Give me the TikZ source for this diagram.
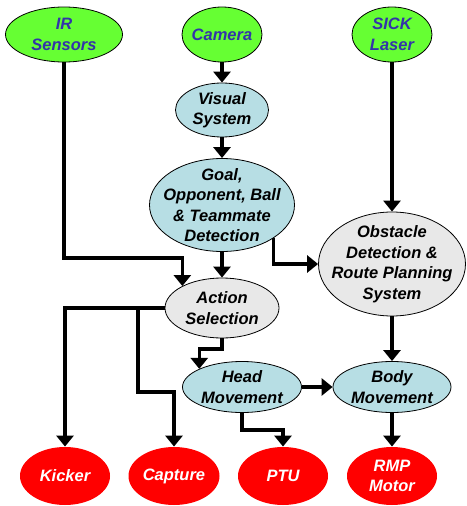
\documentclass[tikz,border=0pt]{standalone}
\usepackage{fontspec}
\setmainfont{Liberation Sans}
\usetikzlibrary{shapes.geometric,arrows.meta}
\definecolor{srcgreen}{RGB}{102,255,51}
\definecolor{srctext}{RGB}{51,51,170}
\definecolor{procblue}{RGB}{183,222,228}
\definecolor{procgray}{RGB}{232,232,232}
\definecolor{outred}{RGB}{255,0,0}
\tikzset{
  x=1pt, y=-1pt,
  ell/.style={ellipse, inner sep=0pt, line width=0.8pt},
  src/.style={ell, draw=black, fill=srcgreen},
  pblue/.style={ell, draw=black, fill=procblue},
  pgray/.style={ell, draw=black, fill=procgray},
  outn/.style={ell, fill=outred},
  lbl/.style={font=\fontsize{16.5}{20.5}\selectfont\bfseries\itshape, align=center, inner sep=0pt},
  srclbl/.style={lbl, text=srctext},
  outlbl/.style={lbl, text=white},
  conn/.style={line width=3.5pt, -{Triangle[width=17pt,length=11pt]}},
}
\begin{document}
\begin{tikzpicture}
\useasboundingbox (0,0) rectangle (466,506);
% sources
\node[src, minimum width=117pt, minimum height=55pt, label={[srclbl]center:{IR\\Sensors}}] (ir) at (64,34.5) {};
\node[src, minimum width=80pt, minimum height=55pt, label={[srclbl]center:{Camera}}] (cam) at (222,34.5) {};
\node[src, minimum width=80pt, minimum height=55pt, label={[srclbl]center:{SICK\\Laser}}] (sick) at (392,34.5) {};
% processing
\node[pblue, minimum width=93pt, minimum height=54pt, label={[lbl]center:{Visual\\System}}] (vis) at (222,110) {};
\node[pblue, minimum width=145pt, minimum height=93pt, label={[lbl]center:{Goal,\\Opponent, Ball\\\& Teammate\\Detection}}] (goal) at (222,205) {};
\node[pgray, minimum width=147pt, minimum height=104pt, label={[lbl]center:{Obstacle\\Detection \&\\Route Planning\\System}}] (obs) at (392,264) {};
\node[pgray, minimum width=114pt, minimum height=60pt, label={[lbl]center:{Action\\Selection}}] (act) at (222,308) {};
\node[pblue, minimum width=119pt, minimum height=51pt, label={[lbl]center:{Head\\Movement}}] (head) at (242,387) {};
\node[pblue, minimum width=118pt, minimum height=51pt, label={[lbl]center:{Body\\Movement}}] (body) at (392,387) {};
% outputs
\node[outn, minimum width=90pt, minimum height=58pt, label={[outlbl]center:{Kicker}}] (kick) at (65,476) {};
\node[outn, minimum width=91pt, minimum height=58pt, label={[outlbl]center:{Capture}}] (capt) at (174,476) {};
\node[outn, minimum width=90pt, minimum height=58pt, label={[outlbl]center:{PTU}}] (ptu) at (283,476) {};
\node[outn, minimum width=90pt, minimum height=58pt, label={[outlbl]center:{RMP\\Motor}}] (rmp) at (392,476) {};
% helper coordinates
\coordinate (j1) at (64,258);
\coordinate (j2) at (138,308);
\coordinate (j3) at (0,392);
\coordinate (j4) at (0,349);
\coordinate (j5) at (0,430);
% connectors
\draw[conn] (cam) -- (vis);
\draw[conn] (vis) -- (goal);
\draw[conn] (goal) -- (act);
\draw[conn] (sick) -- (obs);
\draw[conn] (obs) -- (body);
\draw[conn] (body) -- (rmp);
\draw[conn] (head) -- (body);
\draw[conn] (goal.-33) |- (obs.west);
\draw[conn] (ir.south) -- (j1) -| (act.151);
\draw[conn] (act.west) -| (kick.north);
\draw[conn] (j2) -- (j2 |- j3) -| (capt.north);
\draw[conn] (act.south) -- (act.south |- j4) -| (head.157);
\draw[conn] (head.south) -- (head.south |- j5) -| (ptu.north);
\end{tikzpicture}
\end{document}
